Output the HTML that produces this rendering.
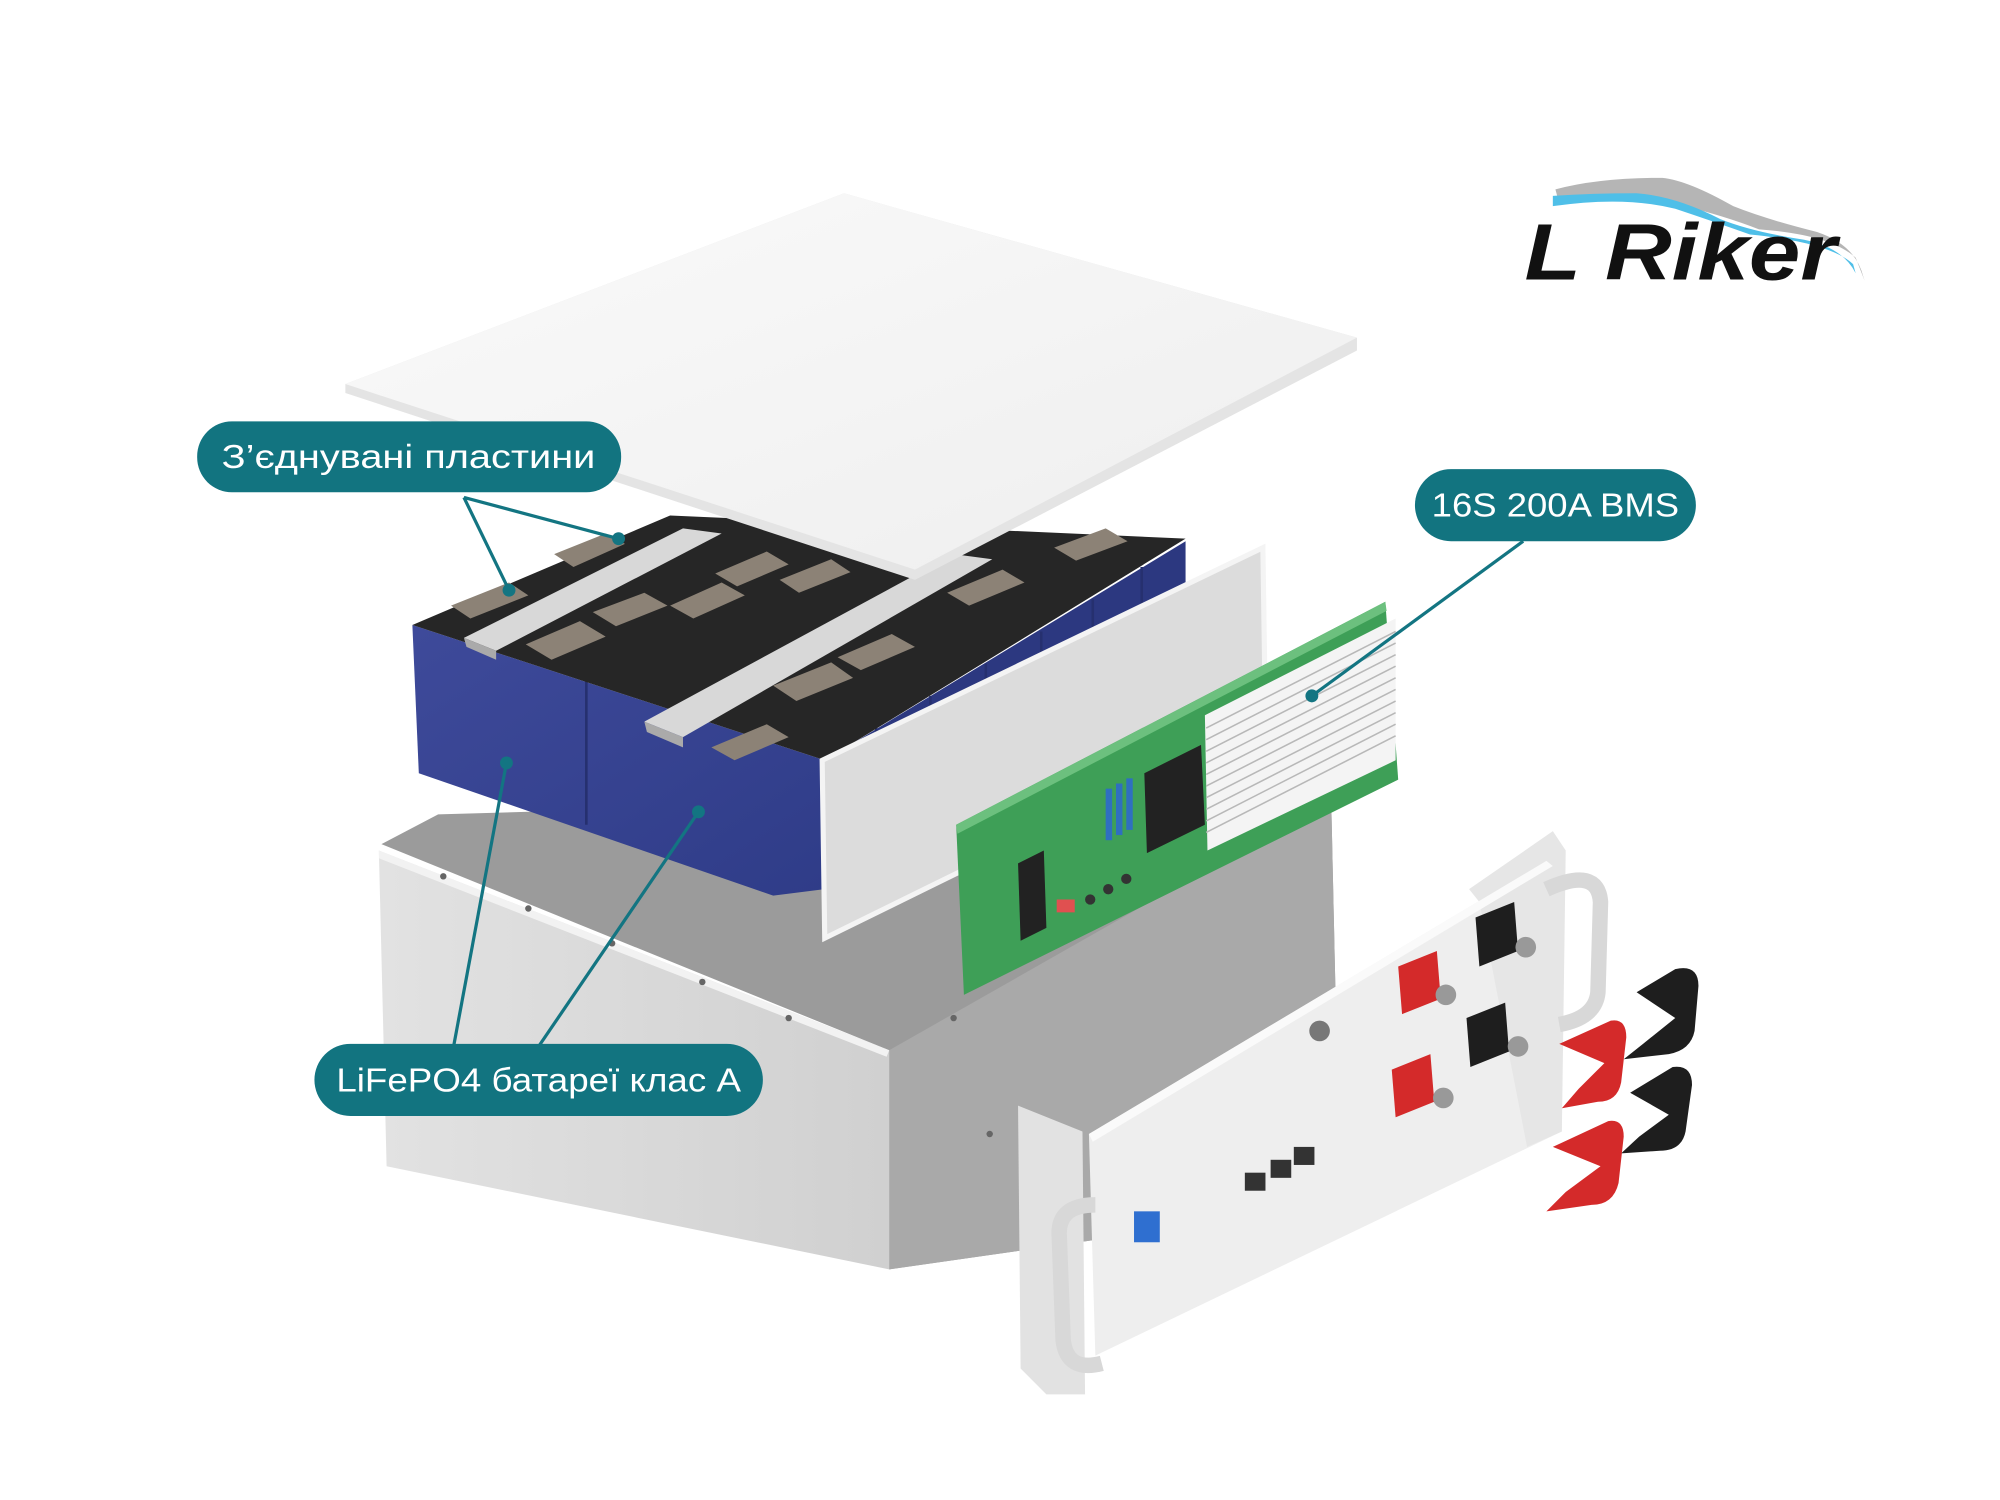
<!DOCTYPE html>
<html><head><meta charset="utf-8"><style>
html,body{margin:0;padding:0;background:#fff;}
svg{display:block;}
</style></head><body>
<svg width="2000" height="1500" viewBox="0 0 1552 1164" xmlns="http://www.w3.org/2000/svg">
<defs>
<linearGradient id="lid" x1="0" y1="0" x2="1" y2="1"><stop offset="0" stop-color="#fafafa"/><stop offset="1" stop-color="#eeeeee"/></linearGradient>
<linearGradient id="blue" x1="0" y1="0" x2="1" y2="1"><stop offset="0" stop-color="#3e4a9a"/><stop offset="1" stop-color="#2f3c88"/></linearGradient>
<linearGradient id="front" x1="0" y1="0" x2="1" y2="0"><stop offset="0" stop-color="#e2e2e2"/><stop offset="1" stop-color="#d0d0d0"/></linearGradient>
<linearGradient id="fade" x1="0" y1="0" x2="0" y2="1"><stop offset="0.5" stop-color="#fff" stop-opacity="0"/><stop offset="1" stop-color="#fff" stop-opacity="1"/></linearGradient>
</defs>
<rect width="1552" height="1164" fill="#fff"/>

<!-- base box -->
<polygon points="296,655 340,632 1025,612 1033,620 1040,935 690,985 690,815" fill="#9b9b9b"/>
<polygon points="690,815 1033,620 1040,935 690,985" fill="#a9a9a9"/>
<polygon points="294,660 690,815 690,985 300,905" fill="url(#front)"/>
<polygon points="294,660 690,815 688,820 294,666" fill="#f2f2f2"/>
<rect x="200" y="880" width="520" height="260" fill="url(#fade)"/>
<g fill="#666"><circle cx="344" cy="680" r="2.5"/><circle cx="410" cy="705" r="2.5"/><circle cx="475" cy="732" r="2.5"/><circle cx="545" cy="762" r="2.5"/><circle cx="612" cy="790" r="2.5"/><circle cx="740" cy="790" r="2.5"/><circle cx="930" cy="675" r="2.5"/><circle cx="768" cy="880" r="2.5"/></g>

<!-- battery block -->
<polygon points="640,590 920,420 920,480 640,690" fill="#2c3880"/>
<polygon points="320,485 640,590 640,690 600,695 325,600" fill="url(#blue)"/>
<line x1="455" y1="528" x2="455" y2="640" stroke="#26306f" stroke-width="2"/>
<g stroke="#26306f" stroke-width="2"><line x1="680" y1="565" x2="680" y2="670"/><line x1="722" y1="540" x2="722" y2="640"/><line x1="765" y1="515" x2="765" y2="610"/><line x1="808" y1="490" x2="808" y2="580"/><line x1="848" y1="465" x2="848" y2="550"/><line x1="886" y1="440" x2="886" y2="520"/></g>
<polygon points="320,485 520,400 920,418 640,590" fill="#262626"/>
<!-- pads -->
<g fill="#8c8276">
<polygon points="350,470 395,452 410,462 365,480"/><polygon points="430,430 470,414 485,422 445,440"/>
<polygon points="408,500 450,482 470,494 428,512"/><polygon points="460,475 500,460 518,470 478,486"/>
<polygon points="555,445 595,428 612,438 572,455"/><polygon points="520,470 560,452 578,462 538,480"/>
<polygon points="552,580 595,562 612,572 570,590"/><polygon points="600,532 645,514 662,526 618,544"/>
<polygon points="650,510 692,492 710,502 668,520"/><polygon points="735,460 778,442 795,452 752,470"/>
<polygon points="818,425 858,410 875,420 835,435"/><polygon points="605,450 645,434 660,444 620,460"/>
</g>
<!-- silver bars -->
<polygon points="360,495 530,410 560,414 385,505" fill="#d8d8d8"/>
<polygon points="360,495 385,505 385,512 362,502" fill="#aaa"/>
<polygon points="500,560 740,430 770,434 530,572" fill="#d8d8d8"/>
<polygon points="500,560 530,572 530,580 502,568" fill="#aaa"/>

<!-- lid -->
<polygon points="268,298 655,150 1053,262 1053,272 710,450 268,305" fill="#e4e4e4"/>
<polygon points="268,298 655,150 1053,262 710,442" fill="url(#lid)"/>

<!-- separator panel -->
<polygon points="638,590 980,425 982,560 640,728" fill="#dcdcdc" stroke="#f4f4f4" stroke-width="4"/>

<!-- PCB -->
<polygon points="742,640 1075,467 1085,605 748,772" fill="#3e9f57"/>
<polygon points="742,640 1075,467 1076,474 743,647" fill="#6cc07e"/>
<polygon points="888,600 932,578 935,640 890,662" fill="#222"/>
<polygon points="790,670 810,660 812,720 792,730" fill="#222"/>
<g fill="#2f6fc0"><rect x="858" y="612" width="5" height="40"/><rect x="866" y="608" width="5" height="40"/><rect x="874" y="604" width="5" height="40"/></g>
<rect x="820" y="698" width="14" height="10" fill="#e05050"/>
<g fill="#333"><circle cx="846" cy="698" r="4"/><circle cx="860" cy="690" r="4"/><circle cx="874" cy="682" r="4"/></g>
<!-- heatsink -->
<polygon points="935,555 1083,480 1083,590 937,660" fill="#f4f4f4"/>
<g stroke="#b8b8b8" stroke-width="1.2">
<line x1="936" y1="565" x2="1083" y2="490"/><line x1="936" y1="574" x2="1083" y2="499"/><line x1="936" y1="583" x2="1083" y2="508"/><line x1="936" y1="592" x2="1083" y2="517"/><line x1="936" y1="601" x2="1083" y2="526"/><line x1="936" y1="610" x2="1083" y2="535"/><line x1="936" y1="619" x2="1083" y2="544"/><line x1="936" y1="628" x2="1083" y2="553"/><line x1="936" y1="637" x2="1083" y2="562"/><line x1="936" y1="646" x2="1083" y2="571"/></g>

<!-- front plate -->
<polygon points="790,858 840,878 842,1082 812,1082 792,1062" fill="#e2e2e2"/>
<polygon points="845,880 1200,668 1210,672 1212,878 850,1052" fill="#eeeeee"/>
<polygon points="1140,690 1205,645 1215,660 1212,878 1185,890 1148,700" fill="#e6e6e6"/>
<polygon points="845,880 1200,668 1205,672 848,886" fill="#fafafa"/>
<!-- handles -->
<path d="M1200,690 Q1240,672 1242,700 L1240,770 Q1238,790 1210,795" fill="none" stroke="#d8d8d8" stroke-width="12"/>
<path d="M850,935 Q820,935 822,960 L825,1040 Q828,1065 855,1058" fill="none" stroke="#d8d8d8" stroke-width="12"/>
<rect x="880" y="940" width="20" height="24" fill="#2f6fd0"/>
<g fill="#333"><rect x="966" y="910" width="16" height="14"/><rect x="986" y="900" width="16" height="14"/><rect x="1004" y="890" width="16" height="14"/></g>
<circle cx="1024" cy="800" r="8" fill="#777"/>
<!-- terminals -->
<polygon points="1085,750 1115,738 1118,775 1088,787" fill="#d42a2a"/><circle cx="1122" cy="772" r="8" fill="#999"/>
<polygon points="1080,830 1110,818 1113,855 1083,867" fill="#d42a2a"/><circle cx="1120" cy="852" r="8" fill="#999"/>
<polygon points="1145,712 1175,700 1178,738 1148,750" fill="#1e1e1e"/><circle cx="1184" cy="735" r="8" fill="#999"/>
<polygon points="1138,790 1168,778 1171,816 1141,828" fill="#1e1e1e"/><circle cx="1178" cy="812" r="8" fill="#999"/>
<!-- caps -->
<path d="M1270,770 L1300,752 Q1318,748 1318,765 L1315,800 Q1312,815 1295,818 L1260,822 L1275,810 L1300,790" fill="#1e1e1e"/>
<path d="M1210,810 L1250,792 Q1262,790 1262,805 L1258,840 Q1255,855 1240,855 L1212,860 L1225,845 L1245,825" fill="#d42a2a"/>
<path d="M1265,848 L1298,828 Q1313,826 1313,842 L1308,878 Q1305,893 1288,893 L1258,895 L1272,882 L1295,865" fill="#1e1e1e"/>
<path d="M1205,890 L1248,870 Q1260,868 1260,882 L1256,918 Q1252,935 1235,935 L1200,940 L1215,925 L1242,905" fill="#d42a2a"/>

<!-- connectors -->
<g stroke="#137582" stroke-width="2.5" fill="none">
<line x1="360" y1="386" x2="395" y2="458"/>
<line x1="360" y1="386" x2="480" y2="418"/>
<line x1="1182" y1="420" x2="1018" y2="540"/>
<line x1="352" y1="812" x2="393" y2="592"/>
<line x1="418" y1="812" x2="542" y2="630"/>
</g>
<g fill="#137582"><circle cx="395" cy="458" r="5"/><circle cx="480" cy="418" r="5"/><circle cx="1018" cy="540" r="5"/><circle cx="393" cy="592" r="5"/><circle cx="542" cy="630" r="5"/></g>

<!-- labels -->
<g font-family="Liberation Sans, sans-serif" font-size="26" fill="#fff">
<rect x="153" y="327" width="329" height="55" rx="27" fill="#127480"/>
<text x="317" y="363" text-anchor="middle" textLength="290" lengthAdjust="spacingAndGlyphs">З’єднувані пластини</text>
<rect x="1098" y="364" width="218" height="56" rx="28" fill="#127480"/>
<text x="1207" y="401" text-anchor="middle" textLength="192" lengthAdjust="spacingAndGlyphs">16S 200A BMS</text>
<rect x="244" y="810" width="348" height="56" rx="28" fill="#127480"/>
<text x="418" y="847" text-anchor="middle" textLength="314" lengthAdjust="spacingAndGlyphs">LiFePO4 батареї клас A</text>
</g>

<!-- logo -->
<path d="M1207,147 L1210,158 Q1260,150 1300,158 Q1340,168 1365,178 Q1420,182 1440,200 L1447,218 L1446,215 Q1440,190 1410,180 Q1370,170 1345,160 Q1310,140 1290,138 Q1240,138 1207,147 Z" fill="#b5b5b5"/>
<path d="M1205,152 L1205,160 Q1260,152 1300,162 Q1330,172 1358,182 Q1420,188 1438,205 L1440,212 Q1430,192 1400,186 Q1360,180 1335,170 Q1300,152 1270,150 Q1235,150 1205,152 Z" fill="#4fbfe8"/>
<text x="1183" y="217" font-family="Liberation Sans, sans-serif" font-weight="bold" font-style="italic" font-size="62" fill="#111" textLength="242" lengthAdjust="spacingAndGlyphs">L Riker</text>
</svg>
</body></html>
